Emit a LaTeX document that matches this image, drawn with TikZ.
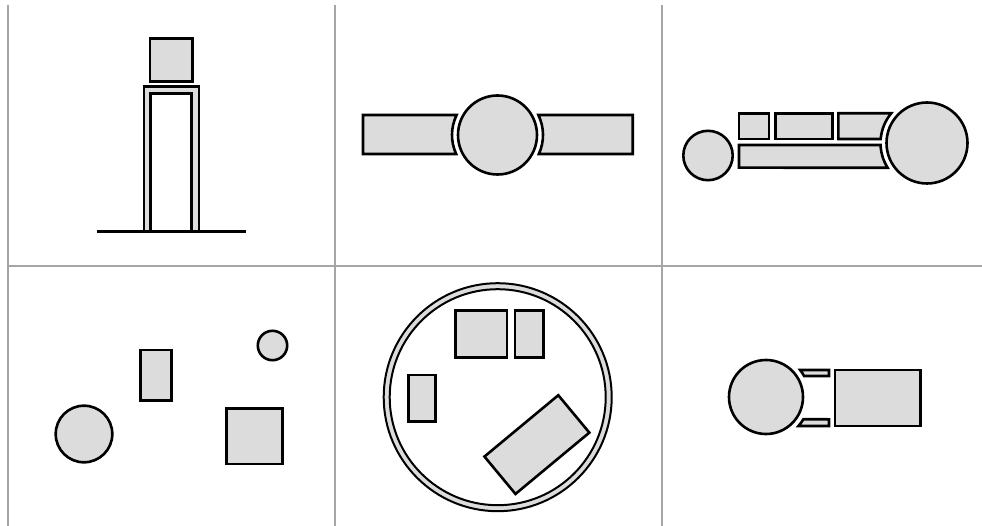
\documentclass[tikz,border=0pt]{standalone}
\usepackage{tikz}
\usetikzlibrary{calc}
\definecolor{partgray}{RGB}{220,220,220}
\definecolor{gridgray}{RGB}{165,165,165}

\begin{document}
\begin{tikzpicture}[
    x=1pt, y=-1pt,
    part/.style={draw=black, fill=partgray, line width=2.6pt},
    ring/.style={draw=black, line width=2pt},
    gridline/.style={draw=gridgray, line width=1.5pt}
]
    \useasboundingbox (0,0) rectangle (982,526);

    % grid of panels
    \draw[gridline] (8,5) -- (8,526);
    \draw[gridline] (335,5) -- (335,526);
    \draw[gridline] (662,5) -- (662,526);
    \draw[gridline] (8,266) -- (982,266);

    % panel 1: box on a frame
    \draw[part] (150,38.3) rectangle (192.3,81.7);
    \fill[partgray, even odd rule] (144,86.7) rectangle (199,231.7) (150.7,93.3) rectangle (191.7,231.7);
    \draw[part, fill=none] (144,231.7) |- (199,86.7) -- (199,231.7);
    \draw[part, fill=none] (150.7,231.7) |- (191.7,93.3) -- (191.7,231.7);
    \draw[line width=3.4pt] (96.7,231.7) -- (245.7,231.7);

    % panel 2: hub with two arms
    \coordinate (hub) at (497.5,135);
    \draw[part] ($(hub)+(206.1:45.5)$) arc[start angle=206.1, end angle=155.3, radius=45.5] -- (363,154) -- (363,115) -- cycle;
    \draw[part] ($(hub)+(-26.1:45.5)$) arc[start angle=-26.1, end angle=24.7, radius=45.5] -- (632.7,154) -- (632.7,115) -- cycle;
    \draw[part] (hub) circle[radius=39.5];

    % panel 3: row of blocks between two wheels
    \draw[part] (708,155.5) circle[radius=24.7];
    \coordinate (wheel) at (927,143);
    \draw[part] (739,113.3) rectangle (769,139);
    \draw[part] (775.3,113.3) rectangle (832.7,139);
    \draw[part] ($(wheel)+(219.7:46.5)$) arc[start angle=219.7, end angle=184.9, radius=46.5] -- (838.3,139) -- (838.3,113.3) -- cycle;
    \draw[part] ($(wheel)+(177.5:46.5)$) arc[start angle=177.5, end angle=147.9, radius=46.5] -- (739,167.7) -- (739,145) -- cycle;
    \draw[part] (wheel) circle[radius=40.5];

    % panel 4: loose parts
    \draw[part] (84,434) circle[radius=28.3];
    \draw[part] (140.3,350) rectangle (171.7,400.7);
    \draw[part] (272.5,345.5) circle[radius=14.7];
    \draw[part] (226.7,408.3) rectangle (282.3,464);

    % panel 5: parts inside a ring
    \coordinate (dish) at (497.7,397.2);
    \fill[partgray, even odd rule] (dish) circle[radius=114] circle[radius=108];
    \draw[ring] (dish) circle[radius=114];
    \draw[ring] (dish) circle[radius=108];
    \draw[part] (455.7,310.7) rectangle (507,357.7);
    \draw[part] (515,310.7) rectangle (543.7,357.7);
    \draw[part] (408.3,375) rectangle (435.7,421.7);
    \coordinate (slab) at (536.9,444.6);
    \draw[part, rotate around={39.7:(slab)}] ($(slab)+(-48,-24.3)$) rectangle ($(slab)+(48,24.3)$);

    % panel 6: drum, clips and block
    \coordinate (drum) at (766,397);
    \draw[part] (drum) circle[radius=37];
    \draw[part] (835,370) rectangle (920.7,426);
    \draw[part] ($(drum)+(-38.4:43.5)$) arc[start angle=-38.4, end angle=-28.9, radius=43.5] -- (829,376) -- (829,370) -- cycle;
    \draw[part] ($(drum)+(30.8:43.5)$) arc[start angle=30.8, end angle=41.8, radius=43.5] -- (829,426) -- (829,419.3) -- cycle;

\end{tikzpicture}
\end{document}
